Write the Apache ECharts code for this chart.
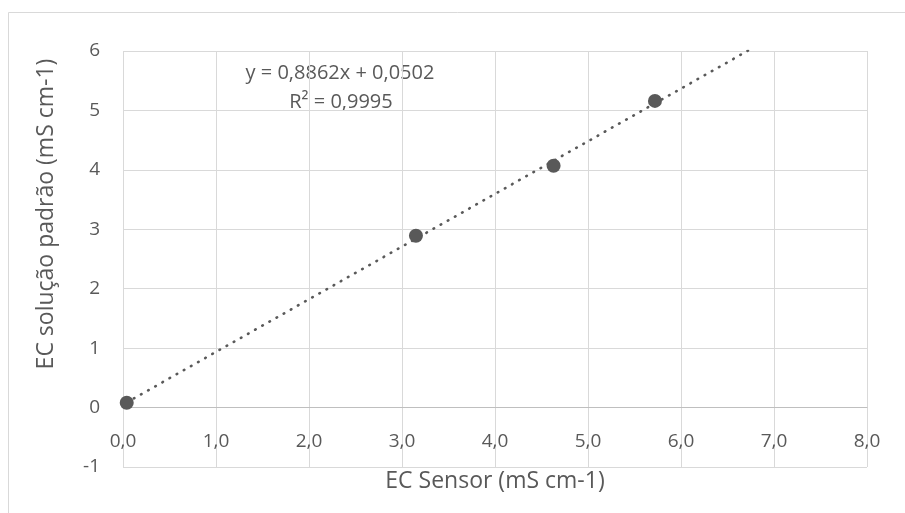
<!DOCTYPE html>
<html>
<head>
<meta charset="utf-8">
<script src="https://cdn.jsdelivr.net/npm/echarts@6/dist/echarts.min.js"></script>
<style>
  html, body { margin: 0; padding: 0; background: #ffffff; }
  #chart { width: 905px; height: 513px; }
</style>
</head>
<body>
<div id="chart"></div>
<script>
// Calibration readings: sensor EC vs. standard solution EC (mS cm-1)
const sensorEC = [0.04, 3.15, 4.63, 5.72];
const standardEC = [0.08, 2.89, 4.07, 5.16];

// Linear trendline coefficients
const slope = 0.8862;
const intercept = 0.0502;
const rSquared = 0.9995;
const forecastForward = 1.0;

// Axis ranges
const xRange = [0, 8];
const yRange = [-1, 6];

const FONT = '"Open Sans", "Noto Sans", sans-serif';
const TEXT = '#595959';
const GRID = '#d9d9d9';

const ptBr = (v, d) => v.toFixed(d).replace('.', ',');

const points = sensorEC.map((x, i) => [x, standardEC[i]]);
const xStart = Math.min(...sensorEC);
const xEnd = Math.max(...sensorEC) + forecastForward;
const trend = [xStart, xEnd].map(x => [x, slope * x + intercept]);

const eqLine1 = 'y = ' + ptBr(slope, 4) + 'x + ' + ptBr(intercept, 4);
const eqLine2 = 'R² = ' + ptBr(rSquared, 4);

// Plot area; the horizontal axis sits at y = 0, one unit above the bottom edge
const plotHeight = 416;
const xAxisLift = plotHeight * (0 - yRange[0]) / (yRange[1] - yRange[0]);

const chart = echarts.init(document.getElementById('chart'), null, { renderer: 'canvas' });

chart.setOption({
  animation: false,
  backgroundColor: '#ffffff',
  grid: {
    left: 123, top: 51, width: 744, height: plotHeight,
    containLabel: false, outerBoundsMode: 'none'
  },
  xAxis: {
    type: 'value',
    min: xRange[0], max: xRange[1], interval: 1,
    offset: -xAxisLift,
    name: 'EC Sensor (mS cm-1)',
    nameLocation: 'middle',
    nameGap: 62,
    nameTextStyle: { color: TEXT, fontSize: 23, fontFamily: FONT },
    axisLine: { show: true, onZero: false, lineStyle: { color: '#bfbfbf', width: 1 } },
    axisTick: { show: false },
    axisLabel: {
      color: TEXT, fontSize: 19, fontFamily: FONT, margin: 25,
      formatter: v => ptBr(v, 1)
    },
    splitLine: { show: true, lineStyle: { color: GRID, width: 1 } }
  },
  yAxis: {
    type: 'value',
    min: yRange[0], max: yRange[1], interval: 1,
    axisLine: { show: false },
    axisTick: { show: false },
    axisLabel: { color: TEXT, fontSize: 19, fontFamily: FONT, margin: 23 },
    splitLine: { show: true, lineStyle: { color: GRID, width: 1 } }
  },
  graphic: [
    {
      type: 'rect', silent: true, z: -10,
      shape: { x: 8.5, y: 12.5, width: 1200, height: 1200 },
      style: { fill: 'none', stroke: GRID, lineWidth: 1 }
    },
    {
      type: 'text', x: 46, y: 214, rotation: Math.PI / 2,
      style: {
        text: 'EC solução padrão (mS cm-1)', fill: TEXT,
        font: '23px ' + FONT, align: 'center', verticalAlign: 'middle'
      }
    },
    {
      type: 'text', x: 340, y: 73,
      style: { text: eqLine1, fill: TEXT, font: '20px ' + FONT, align: 'center', verticalAlign: 'middle' }
    },
    {
      type: 'text', x: 341, y: 102,
      style: { text: eqLine2, fill: TEXT, font: '20px ' + FONT, align: 'center', verticalAlign: 'middle' }
    }
  ],
  series: [
    {
      name: 'Linear (EC)',
      type: 'line',
      data: trend,
      showSymbol: false,
      clip: true,
      z: 2,
      lineStyle: { color: TEXT, width: 2.6, type: [0.6, 7.6], cap: 'round' }
    },
    {
      name: 'EC',
      type: 'scatter',
      data: points,
      symbol: 'circle',
      symbolSize: 14,
      z: 3,
      itemStyle: { color: TEXT, opacity: 1 }
    }
  ]
});
</script>
</body>
</html>
